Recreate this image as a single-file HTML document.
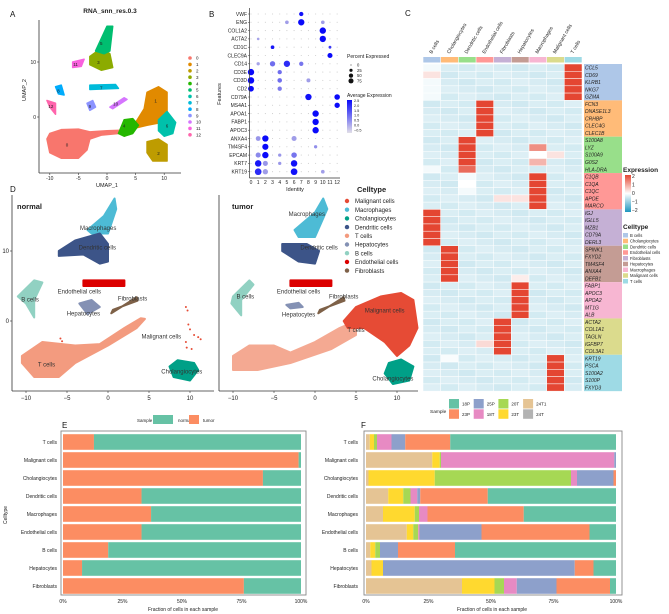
<!DOCTYPE html>
<html><head><meta charset="utf-8"><style>
html,body{margin:0;padding:0;background:#fff}
svg{display:block;font-family:"Liberation Sans",sans-serif}
</style></head><body>
<svg id="fig" width="669" height="614" viewBox="0 0 669 614" xmlns="http://www.w3.org/2000/svg">
<g font-size="8" fill="#111">
<text x="10" y="17">A</text>
<text x="209" y="17">B</text>
<text x="405" y="16">C</text>
<text x="10" y="192">D</text>
<text x="62" y="428">E</text>
<text x="361" y="428">F</text>
</g>
</svg>
<script>
const NS='http://www.w3.org/2000/svg';
const svg=document.getElementById('fig');
function mk(tag,attrs,name,parent){
  const el=document.createElementNS(NS,tag);
  for(const k in attrs) el.setAttribute(k,attrs[k]);
  
  
  (parent||svg).appendChild(el);
  return el;
}
function txt(x,y,s,size,name,extra,parent){
  const a=Object.assign({x:x,y:y,'font-size':size,fill:'#222'},extra||{});
  const t=mk('text',a,name,parent); t.textContent=s; return t;
}

/* ===== Panel A data ===== */
const clusterNames=['0','1','2','3','4','5','6','7','8','9','10','11','12'];
const clusterColors=['#F8766D','#E18A00','#BE9C00','#8CAB00','#24B700','#00BE70','#00C1AB','#00BBDA','#00ACFC','#8B93FF','#D575FE','#F962DD','#FF65AC'];
const clusterShapes=[
 [[-10.5,-4],[-10,-6.5],[-8,-7.5],[-5,-7.5],[-3.5,-6],[-3,-4],[-1,-3.3],[2,-3],[2.5,-2.4],[0,-2.5],[-3,-2.7],[-5,-2.2],[-8,-2.3],[-10,-3]],
 [[5,-1],[6.5,1.5],[7,4.5],[9,5.5],[10.5,4.5],[10.5,1],[9.5,-1],[7,-1.5],[5,-2]],
 [[7,-4.5],[9,-4],[10.5,-5],[10.5,-8],[8,-8],[7,-6.5]],
 [[-3,11],[-1,12.5],[0.5,11.5],[1,9],[-1,8.5],[-3,9.5]],
 [[2,-3],[3,-0.5],[4.5,-0.3],[5.5,-1.5],[4.5,-3],[3,-3.5]],
 [[-2,12],[0,16.5],[1,16.5],[0.5,12],[-0.5,11.5]],
 [[9,-0.5],[10.5,1],[12,-1],[11.5,-3],[10,-3.5],[9,-2.5]],
 [[-3,5.8],[1.5,5.9],[2,5.2],[-3,5.0]],
 [[-9,5.5],[-8,5.8],[-7.5,4],[-8.5,4.2]],
 [[-3.5,2.5],[-2.5,3],[-2,1.8],[-3,1.2]],
 [[0.5,1.8],[3,3.5],[3.5,3.2],[1,1.5]],
 [[-6,10],[-4,10.5],[-4.5,9.2],[-6,9]],
 [[-10.5,3],[-9,2.5],[-9,0.5],[-10,1.8]]
];
const clusterLabelPos=[[-7,-5],[8.5,3],[9,-6.5],[-1.5,10],[3,-1.5],[-1,13.5],[10.5,-1.5],[-1,5.4],[-8.5,4.8],[-3,2],[1.5,2.5],[-5.5,9.6],[-9.8,2]];
const umapTicks=[-10,-5,0,5,10];

const gA=mk('g',{},'panel-a-umap');
const ax=v=>107+v*5.72, ay=v=>117-v*5.5;
txt(110,13,'RNA_snn_res.0.3',6.5,'panel-a-title',{'text-anchor':'middle','font-weight':'bold'},gA);
clusterShapes.forEach((p,i)=>{
  mk('polygon',{points:p.map(q=>ax(q[0])+','+ay(q[1])).join(' '),fill:clusterColors[i],stroke:clusterColors[i],'stroke-width':1.5,'stroke-linejoin':'round'},'cluster-'+i,gA);
  txt(ax(clusterLabelPos[i][0]),ay(clusterLabelPos[i][1])+2,clusterNames[i],4.5,'cluster-label-'+i,{'text-anchor':'middle'},gA);
});
mk('line',{x1:39,y1:20,x2:39,y2:173,stroke:'#333','stroke-width':0.8},'a-y-axis',gA);
mk('line',{x1:39,y1:173,x2:181,y2:173,stroke:'#333','stroke-width':0.8},'a-x-axis',gA);
umapTicks.forEach(t=>{
  mk('line',{x1:ax(t),y1:173,x2:ax(t),y2:175,stroke:'#333','stroke-width':0.6},'a-x-tick',gA);
  txt(ax(t),180,String(t),5,'a-x-tick-label',{'text-anchor':'middle'},gA);
});
[0,10].forEach(t=>{
  mk('line',{x1:37,y1:ay(t),x2:39,y2:ay(t),stroke:'#333','stroke-width':0.6},'a-y-tick',gA);
  txt(36,ay(t)+2,String(t),5,'a-y-tick-label',{'text-anchor':'end'},gA);
});
txt(107,187,'UMAP_1',5.5,'a-x-title',{'text-anchor':'middle'},gA);
txt(26,90,'UMAP_2',5.5,'a-y-title',{'text-anchor':'middle',transform:'rotate(-90 26 90)'},gA);
clusterNames.forEach((n,i)=>{
  const y=58+i*6.4;
  mk('circle',{cx:190,cy:y,r:1.8,fill:clusterColors[i]},'a-legend-dot-'+n,gA);
  txt(196,y+1.7,n,4.5,'a-legend-label-'+n,{},gA);
});

/* ===== Panel B dot plot data ===== */
const dotGenes=['VWF','ENG','COL1A2','ACTA2','CD1C','CLEC9A','CD14','CD3E','CD3D','CD2','CD79A','MS4A1','APOA1','FABP1','APOC3','ANXA4','TM4SF4','EPCAM','KRT7','KRT19'];
const dotIdentities=['0','1','2','3','4','5','6','7','8','9','10','11','12'];
// [geneIndex, identity, percent(0-100), avgExpr]
const dotMain=[
 [0,7,30,2.4],[1,7,75,2.5],[1,5,20,0.3],[1,10,20,0.3],[2,10,75,2.5],[3,10,75,2.5],[3,1,8,0.2],
 [4,3,20,2.3],[4,11,10,1.8],[5,11,45,2.5],[6,5,75,2.0],[6,3,50,1.0],[6,7,30,0.9],[6,1,15,0.2],
 [7,0,75,2.5],[7,4,30,1.0],[8,0,80,2.5],[8,4,35,1.0],[8,8,25,0.3],[9,0,60,2.5],[9,4,30,0.8],
 [10,8,75,2.4],[10,12,55,2.5],[11,12,50,2.5],[12,9,75,2.5],[13,9,75,2.5],[14,9,75,2.5],
 [15,2,75,2.5],[15,1,40,0.4],[15,6,45,0.3],[16,2,70,2.5],[16,9,15,0.5],[17,2,75,2.5],[17,1,45,0.6],[17,6,55,0.9],[17,4,15,0.4],
 [18,1,80,2.3],[18,6,80,2.4],[18,2,45,0.4],[18,4,15,0.4],[19,1,85,2.0],[19,6,85,2.4],[19,2,50,0.3],[19,10,20,0.3]
];
const pctLegend=[0,25,50,75];
const exprLegend=['2.5','2.0','1.5','1.0','0.5','0.0','\u22120.5'];
const gB=mk('g',{},'panel-b-dotplot');
const bx=i=>251+i*7.18, by=i=>14+i*8.3;
const rad=p=>0.4+Math.sqrt(p/100)*3.2;
function ecol(e){const t=Math.max(0,Math.min(1,(e+0.5)/3));const c0=[214,210,226],c1=[10,10,250];return 'rgb('+c0.map((v,k)=>Math.round(v+(c1[k]-v)*t)).join(',')+')';}
dotGenes.forEach((g,r)=>{
  txt(247,by(r)+1.8,g,5,'b-gene-label-'+g,{'text-anchor':'end'},gB);
  mk('line',{x1:248,y1:by(r),x2:249.5,y2:by(r),stroke:'#333','stroke-width':0.5},'b-y-tick',gB);
  dotIdentities.forEach((id,c)=>mk('circle',{cx:bx(c),cy:by(r),r:0.55,fill:'#ccc'},'b-dot-bg',gB));
});
dotMain.forEach(d=>mk('circle',{cx:bx(d[1]),cy:by(d[0]),r:rad(d[2]),fill:ecol(d[3])},'b-dot-'+dotGenes[d[0]]+'-'+d[1],gB));
mk('line',{x1:249.5,y1:8,x2:249.5,y2:178,stroke:'#333','stroke-width':0.7},'b-y-axis',gB);
mk('line',{x1:249.5,y1:178,x2:340,y2:178,stroke:'#333','stroke-width':0.7},'b-x-axis',gB);
dotIdentities.forEach((id,c)=>txt(bx(c),184,id,5,'b-x-tick-'+id,{'text-anchor':'middle'},gB));
txt(295,191,'Identity',5.5,'b-x-title',{'text-anchor':'middle'},gB);
txt(221,94,'Features',5.5,'b-y-title',{'text-anchor':'middle',transform:'rotate(-90 221 94)'},gB);
txt(347,58,'Percent Expressed',5,'b-legend-pct-title',{},gB);
pctLegend.forEach((p,i)=>{const y=65+i*5.3;mk('circle',{cx:351,cy:y,r:Math.max(0.5,rad(p)*0.8),fill:'#111'},'b-legend-pct-dot',gB);txt(357,y+1.6,String(p),4.2,'b-legend-pct-label',{},gB);});
txt(347,97,'Average Expression',5,'b-legend-expr-title',{},gB);
const defs=mk('defs',{},'defs');
const lg=mk('linearGradient',{id:'bgrad',x1:0,y1:0,x2:0,y2:1},'b-gradient',defs);
mk('stop',{offset:0,'stop-color':'#0a0afa'},'stop',lg);mk('stop',{offset:1,'stop-color':'#e2dfe8'},'stop',lg);
mk('rect',{x:347,y:100,width:5,height:33,fill:'url(#bgrad)'},'b-legend-colorbar',gB);
exprLegend.forEach((s,i)=>txt(354,102+i*4.9,s,3.8,'b-legend-expr-label',{},gB));

/* ===== Panel C heatmap data ===== */
const hmColumns=['B cells','Cholangiocytes','Dendritic cells','Endothelial cells','Fibroblasts','Hepatocytes','Macrophages','Malignant cells','T cells'];
const hmTypeColors=['#aec7e8','#ffbb78','#98df8a','#ff9896','#c5b0d5','#c49c94','#f7b6d2','#dbdb8d','#9edae5'];
const hmGenes=['CCL5','CD69','KLRB1','NKG7','GZMA','FCN3','DNASE1L3','CRHBP','CLEC4G','CLEC1B','S100A8','LYZ','S100A9','G0S2','HLA-DRA','C1QB','C1QA','C1QC','APOE','MARCO','IGJ','IGLL5','MZB1','CD79A','DERL3','SPINK1','FXYD2','TM4SF4','ANXA4','DEFB1','FABP1','APOC3','APOA2','MT1G','ALB','ACTA2','COL1A1','TAGLN','IGFBP7','COL3A1','KRT19','PSCA','S100A2','S100P','FXYD3'];
const hmGroupType=[8,3,2,6,0,1,5,4,7]; // column highlighted by each gene group
const hmGroupRowColor=[0,1,2,3,4,5,6,7,8];
const hmOverrides=[[0,0,-0.1],[1,0,0.3],[2,0,-0.1],[3,0,-0.1],[4,0,-0.1],[11,6,1.2],[12,6,0.0],[12,7,0.3],[13,6,0.8],[14,2,1.7],[14,0,-0.1],[15,2,-0.1],[16,2,0.0],[17,2,-0.1],[18,4,0.3],[18,5,0.3],[29,5,0.2],[38,3,0.4],[40,1,-0.05],[44,0,-0.3]];
const hmLegendTicks=['2','1','0','\u22121','\u22122'];
const gC=mk('g',{},'panel-c-heatmap');
const cx0=423,cw=17.67,cy0=64,ch=7.27;
function hcol(v){
  v=Math.max(-2,Math.min(2,v));
  let c;
  if(v>=0){const t=v/2;const a=[255,255,255],b=[228,70,50];c=a.map((x,k)=>x+(b[k]-x)*t);}
  else{const t=-v/2;const a=[255,255,255],b=[30,150,190];c=a.map((x,k)=>x+(b[k]-x)*t);}
  return 'rgb('+c.map(Math.round).join(',')+')';
}
const hmValues=hmGenes.map((g,r)=>hmColumns.map((c,j)=>{
  let v=-0.42+((r*7+j*3)%5)*0.03;
  if(hmGroupType[Math.floor(r/5)]===j) v=2;
  return v;
}));
hmOverrides.forEach(o=>hmValues[o[0]][o[1]]=o[2]);
hmValues[14][2]=1.6;
hmGenes.forEach((g,r)=>{
  hmColumns.forEach((c,j)=>mk('rect',{x:cx0+j*cw,y:cy0+r*ch,width:cw,height:ch,fill:hcol(hmValues[r][j]),stroke:'#fff','stroke-width':0.5},'hm-cell-'+g+'-'+j,gC));
});
for(let k=0;k<9;k++) mk('rect',{x:584,y:cy0+k*5*ch,width:38,height:5*ch,fill:hmTypeColors[hmGroupRowColor[k]]},'hm-row-annot-'+k,gC);
hmGenes.forEach((g,r)=>txt(585,cy0+r*ch+5.5,g,5,'hm-gene-'+g,{'font-style':'italic'},gC));
hmColumns.forEach((c,j)=>{
  mk('rect',{x:cx0+j*cw+0.3,y:57,width:cw-0.6,height:5.5,fill:hmTypeColors[j]},'hm-col-annot-'+j,gC);
  const x=cx0+j*cw+cw/2,y=54;
  txt(x,y,c,5,'hm-col-label-'+j,{transform:'rotate(-60 '+x+' '+y+')'},gC);
});
txt(623,172,'Expression',6.5,'hm-legend-title',{'font-weight':'bold'},gC);
const lg2=mk('linearGradient',{id:'hgrad',x1:0,y1:0,x2:0,y2:1},'hm-gradient',defs);
mk('stop',{offset:0,'stop-color':'#e44632'},'stop',lg2);mk('stop',{offset:0.5,'stop-color':'#ffffff'},'stop',lg2);mk('stop',{offset:1,'stop-color':'#1e96be'},'stop',lg2);
mk('rect',{x:625,y:175,width:6,height:37,fill:'url(#hgrad)'},'hm-legend-bar',gC);
hmLegendTicks.forEach((s,i)=>txt(632,178+i*8.5,s,5,'hm-legend-tick',{},gC));
txt(623,229,'Celltype',6.5,'hm-type-legend-title',{'font-weight':'bold'},gC);
hmColumns.forEach((c,j)=>{const y=233+j*5.75;mk('rect',{x:623,y:y,width:5,height:4.5,fill:hmTypeColors[j]},'hm-type-swatch',gC);txt(630,y+3.8,c,4.2,'hm-type-label-'+j,{},gC);});

/* Sample legend for F */
const sampleNames=['18P','25P','20T','24T1','23P','18T','23T','24T'];
const sampleColors=['#66c2a5','#8da0cb','#a6d854','#e5c494','#fc8d62','#e78ac3','#ffd92f','#b3b3b3'];
const gS=mk('g',{},'sample-legend');
txt(430,413,'Sample',4.8,'sample-legend-title',{},gS);
sampleNames.forEach((n,i)=>{const col=i%4,row=Math.floor(i/4);const x=449+col*24.7,y=399+row*10.3;
  mk('rect',{x:x,y:y,width:10,height:9.5,fill:sampleColors[i]},'sample-swatch-'+n,gS);txt(x+13,y+6.5,n,4.5,'sample-label-'+n,{},gS);});

/* ===== Panel D ===== */
const typeNames=['Malignant cells','Macrophages','Cholangiocytes','Dendritic cells','T cells','Hepatocytes','B cells','Endothelial cells','Fibroblasts'];
const typeColors=['#e64b35','#4dbbd5','#00a087','#3c5488','#f39b7f','#8491b4','#91d1c2','#dc0000','#7e6148'];
const normalShapes={
 'Macrophages':[[-2.5,13],[-0.5,15],[0.8,17.5],[1,16],[0,12.5],[-2,12.5]],
 'Dendritic cells':[[-6,10],[-4,11.5],[-1,12.5],[0,11],[0,8.5],[-1,8.2],[-3,9.5],[-6,9.3]],
 'Endothelial cells':[[-3,5.8],[2,5.8],[2,5],[-3,5]],
 'B cells':[[-11,3.5],[-9,5.8],[-8,5.5],[-9,3],[-9,0.5],[-10,2.5]],
 'Hepatocytes':[[-3.5,2.5],[-2,3],[-1,2],[-2.5,1]],
 'Fibroblasts':[[0.4,1.1],[3.5,3.4],[3.6,2.9],[0.6,1.6]],
 'T cells':[[-10.5,-6],[-9,-8],[-6,-8],[-4,-6],[0,-3.5],[3.5,-1],[4.5,0.3],[4,0.4],[2,-1],[-1,-3.3],[-4,-3.5],[-8,-3],[-10.5,-5]],
 'Cholangiocytes':[[7.5,-6.5],[8.5,-5.6],[10.5,-6],[11,-7],[10,-8.5],[8,-8]]
};
const tumorShapes={
 'Macrophages':[[-2.5,13],[0,15.5],[1,17.5],[1.5,16],[0,12],[-2,12]],
 'Dendritic cells':[[-4,11],[-1,11],[0.5,10],[0,8.2],[-2,8.5],[-4,10]],
 'Endothelial cells':[[-3,5.8],[2,5.8],[2,5],[-3,5]],
 'B cells':[[-10,3.5],[-8,5.8],[-7.5,5.2],[-9,3],[-9,0.8],[-10.2,2.5]],
 'Hepatocytes':[[-3.5,2.3],[-2,2.6],[-1.5,2],[-3,1.8]],
 'Fibroblasts':[[0.4,1.1],[3.5,3.4],[3.6,2.9],[0.6,1.6]],
 'T cells':[[-10,-5],[-8,-3.5],[-5,-3.5],[-3,-4.5],[0,-3],[3,-1],[5,0],[5,-2],[2,-4],[-3,-6],[-7,-7],[-10,-7]],
 'Malignant cells':[[3.5,0],[5,2],[8,3.5],[10.5,4],[12,3],[12.5,-1],[11.5,-3.5],[10,-5],[8.5,-3],[6,-1],[4,-1]],
 'Cholangiocytes':[[9,-6],[10.5,-5.5],[12,-6.5],[11.5,-8.5],[9.5,-9],[8.5,-7.5]]
};
const normalMalignantPts=[[9.5,2],[9.7,1.5],[9.8,-0.5],[10,-1.2],[10.5,-2],[11,-2.3],[11.3,-2.6],[9.5,-3],[9.6,-3.8],[10.2,-4],[-5.8,-2.5],[-5.6,-2.9]];
const normalLabels=[['Macrophages',-1.2,13.3],['Dendritic cells',-1.3,10.5],['Endothelial cells',-3.5,4.2],['B cells',-9.5,3.1],['Hepatocytes',-3,1.1],['Fibroblasts',3,3.2],['Malignant cells',6.5,-2.2],['T cells',-7.5,-6.2],['Cholangiocytes',9,-7.2]];
const tumorLabels=[['Macrophages',-1,15.3],['Dendritic cells',0.5,10.5],['Endothelial cells',-2,4.2],['B cells',-8.5,3.5],['Hepatocytes',-2,0.9],['Fibroblasts',3.5,3.5],['Malignant cells',8.5,1.5],['T cells',5,-1.3],['Cholangiocytes',9.5,-8.2]];

function drawD(shapes,labels,x0,name){
  const g=mk('g',{},'umap-'+name);
  const X=v=>x0+v*8.2, Y=v=>321-v*7;
  Object.keys(shapes).forEach(k=>{
    const c=typeColors[typeNames.indexOf(k)];
    mk('polygon',{points:shapes[k].map(q=>X(q[0])+','+Y(q[1])).join(' '),fill:c,stroke:c,'stroke-width':2,'stroke-linejoin':'round',opacity:(name==='tumor'&&k==='T cells')?0.85:1},name+'-cluster-'+k.replace(/ /g,'-').toLowerCase(),g);
  });
  return {g:g,X:X,Y:Y};
}
const dn=drawD(normalShapes,normalLabels,108,'normal');
normalMalignantPts.forEach(p=>mk('circle',{cx:dn.X(p[0]),cy:dn.Y(p[1]),r:1,fill:'#e64b35'},'normal-malignant-point',dn.g));
const dt=drawD(tumorShapes,tumorLabels,315,'tumor');
[[dn,normalLabels,12,214,'normal',17],[dt,tumorLabels,219,418,'tumor',232]].forEach(([d,labs,axL,axR,nm,tx])=>{
  labs.forEach(l=>txt(d.X(l[1]),d.Y(l[2])+2,l[0],6,nm+'-label-'+l[0].replace(/ /g,'-').toLowerCase(),{'text-anchor':'middle',fill:'#333'},d.g));
  mk('line',{x1:axL,y1:195,x2:axL,y2:391,stroke:'#333','stroke-width':0.8},nm+'-y-axis',d.g);
  mk('line',{x1:axL,y1:391,x2:axR,y2:391,stroke:'#333','stroke-width':0.8},nm+'-x-axis',d.g);
  umapTicks.forEach(t=>{mk('line',{x1:d.X(t),y1:391,x2:d.X(t),y2:393,stroke:'#333','stroke-width':0.6},nm+'-x-tick',d.g);
    txt(d.X(t),400,String(t).replace('-','\u2212'),6,nm+'-x-tick-label',{'text-anchor':'middle'},d.g);});
  txt(tx,209,nm,7.5,nm+'-title',{'font-weight':'bold'},d.g);
});
[0,10].forEach(t=>{mk('line',{x1:10,y1:dn.Y(t),x2:12,y2:dn.Y(t),stroke:'#333','stroke-width':0.6},'d-y-tick',dn.g);txt(9,dn.Y(t)+2,String(t),6,'d-y-tick-label',{'text-anchor':'end'},dn.g);});
const gDL=mk('g',{},'d-legend');
txt(357,192,'Celltype',7.5,'d-legend-title',{'font-weight':'bold'},gDL);
typeNames.forEach((n,i)=>{const y=201+i*8.7;mk('circle',{cx:347,cy:y,r:2.2,fill:typeColors[i]},'d-legend-dot',gDL);txt(355,y+2.2,n,6,'d-legend-label-'+i,{},gDL);});

/* ===== Panel E ===== */
const barCategories=['T cells','Malignant cells','Cholangiocytes','Dendritic cells','Macrophages','Endothelial cells','B cells','Hepatocytes','Fibroblasts'];
const tumorFrac=[0.13,0.99,0.84,0.33,0.37,0.33,0.19,0.08,0.76];
const pctTicks=['0%','25%','50%','75%','100%'];
const gE=mk('g',{},'panel-e-bars');
const eX=f=>63+f*238, barY=i=>442+i*18;
mk('rect',{x:61,y:431,width:245,height:164,fill:'#fff',stroke:'#888','stroke-width':0.9},'e-plot-frame',gE);
barCategories.forEach((c,i)=>{
  const y=barY(i)-7.8;
  mk('rect',{x:eX(0),y:y,width:eX(tumorFrac[i])-eX(0),height:15.6,fill:'#fc8d62'},'e-bar-tumor-'+i,gE);
  mk('rect',{x:eX(tumorFrac[i]),y:y,width:eX(1)-eX(tumorFrac[i]),height:15.6,fill:'#66c2a5'},'e-bar-normal-'+i,gE);
  txt(57,barY(i)+2,c,5,'e-cat-label-'+i,{'text-anchor':'end'},gE);
});
pctTicks.forEach((s,i)=>txt(eX(i/4),603,s,5,'e-x-tick',{'text-anchor':'middle'},gE));
txt(183,611,'Fraction of cells in each sample',5,'e-x-title',{'text-anchor':'middle'},gE);
txt(7,515,'Celltype',5,'e-y-title',{'text-anchor':'middle',transform:'rotate(-90 7 515)'},gE);
txt(137,422,'Sample',4.5,'e-legend-title',{},gE);
mk('rect',{x:153,y:415,width:20,height:9,fill:'#66c2a5'},'e-legend-normal-swatch',gE);
txt(178,422,'normal',4.5,'e-legend-normal',{},gE);
mk('rect',{x:189,y:415,width:10,height:9,fill:'#fc8d62'},'e-legend-tumor-swatch',gE);
txt(203,422,'tumor',4.5,'e-legend-tumor',{},gE);

/* ===== Panel F ===== */
const segOrder=['24T1','23T','20T','18T','25P','23P','18P','24T'];
const segColors=['#e5c494','#ffd92f','#a6d854','#e78ac3','#8da0cb','#fc8d62','#66c2a5','#b3b3b3'];
const fTcells=[0.015,0.017,0.012,0.058,0.055,0.18,0.663,0];
const fMalignant=[0.265,0.03,0.005,0.693,0.007,0,0,0];
const fCholang=[0.01,0.265,0.545,0.024,0.146,0.01,0,0];
const fDendritic=[0.089,0.06,0.029,0.027,0.012,0.27,0.513,0];
const fMacro=[0.068,0.127,0.017,0.034,0,0.385,0.369,0];
const fEndo=[0.163,0.026,0.02,0.005,0.248,0.432,0.106,0];
const fB=[0.017,0.02,0.019,0,0.072,0.228,0.644,0];
const fHepato=[0.022,0.046,0,0,0.767,0.075,0.09,0];
const fFibro=[0.384,0.13,0.038,0.051,0.159,0.214,0.024,0];
const fRows=[fTcells,fMalignant,fCholang,fDendritic,fMacro,fEndo,fB,fHepato,fFibro];
const gF=mk('g',{},'panel-f-bars');
const fX=f=>366+f*250;
mk('rect',{x:364,y:431,width:258,height:164,fill:'#fff',stroke:'#888','stroke-width':0.9},'f-plot-frame',gF);
fRows.forEach((row,i)=>{
  const tot=row.reduce((a,b)=>a+b,0);let acc=0;
  row.forEach((v,k)=>{ if(v<=0) return; const a=acc/tot,b=(acc+v)/tot;
    mk('rect',{x:fX(a),y:barY(i)-7.8,width:fX(b)-fX(a),height:15.6,fill:segColors[k]},'f-seg-'+i+'-'+segOrder[k],gF); acc+=v;});
  txt(358,barY(i)+2,barCategories[i],5,'f-cat-label-'+i,{'text-anchor':'end'},gF);
});
pctTicks.forEach((s,i)=>txt(fX(i/4),603,s,5,'f-x-tick',{'text-anchor':'middle'},gF));
txt(492,611,'Fraction of cells in each sample',5,'f-x-title',{'text-anchor':'middle'},gF);
</script>
</body></html>
